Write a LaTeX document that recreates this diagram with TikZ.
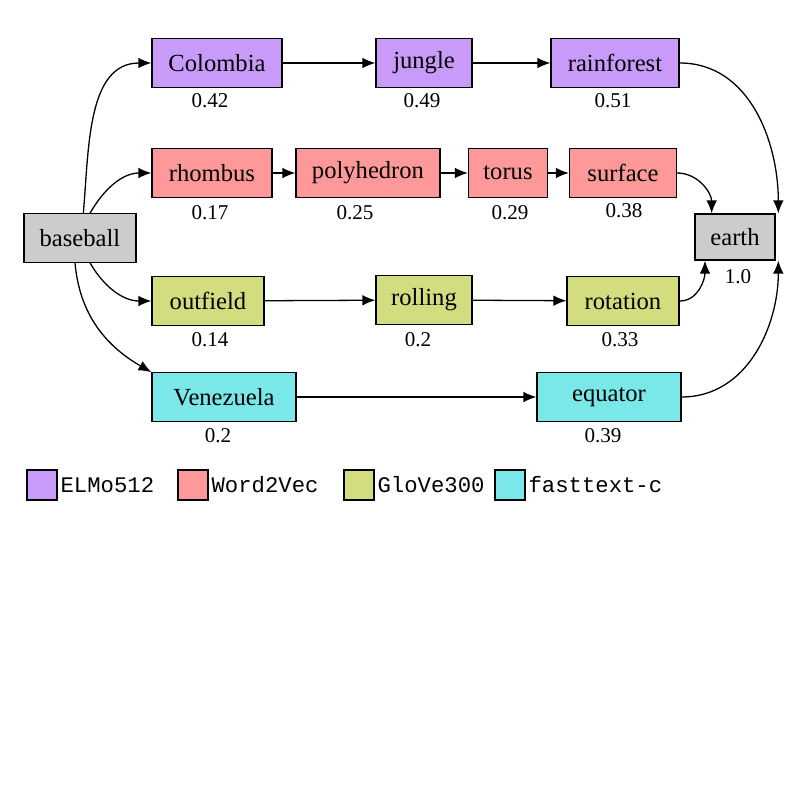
\documentclass[tikz,border=0pt]{standalone}
\usepackage{fontspec}
\setmainfont{Liberation Serif}
\setmonofont{Liberation Mono}
\usetikzlibrary{arrows.meta}
\definecolor{cP}{HTML}{C89BFA}
\definecolor{cR}{HTML}{FF9999}
\definecolor{cG}{HTML}{D4DC80}
\definecolor{cC}{HTML}{7AE8E8}
\definecolor{cK}{HTML}{CCCCCC}
\begin{document}
\begin{tikzpicture}[x=0.03cm,y=-0.03cm,line width=1.1pt,
 box/.style={draw,minimum height=1.45cm,inner sep=0pt,font=\fontsize{21}{24}\selectfont},
 sc/.style={font=\fontsize{18}{20}\selectfont},
 lg/.style={draw,minimum size=0.9cm,inner sep=0pt},
 lt/.style={font=\ttfamily\fontsize{19}{22}\selectfont,anchor=west,inner sep=2pt},
 ar/.style={-{Latex[length=11pt,width=9pt]}}]
\useasboundingbox (0,0) rectangle (792,792);
\node[box,fill=cP,minimum width=3.9cm] (col) at (217,63) {Colombia};
\node[box,fill=cP,minimum width=2.88cm] (jun) at (424,63) {jungle};
\node[box,fill=cP,minimum width=3.84cm] (rain) at (615,63) {rainforest};
\node[box,fill=cR,minimum width=3.6cm] (rho) at (212,173) {rhombus};
\node[box,fill=cR,minimum width=4.32cm] (pol) at (368,173) {polyhedron};
\node[box,fill=cR,minimum width=2.37cm] (tor) at (508,173) {torus};
\node[box,fill=cR,minimum width=3.21cm] (sur) at (623,173) {surface};
\node[box,fill=cK,minimum width=3.36cm] (base) at (80,238) {baseball};
\node[box,fill=cK,minimum width=2.4cm,minimum height=1.38cm] (earth) at (735,237) {earth};
\node[box,fill=cG,minimum width=3.36cm] (out) at (208,301) {outfield};
\node[box,fill=cG,minimum width=2.88cm] (rol) at (424,300) {rolling};
\node[box,fill=cG,minimum width=3.36cm] (rot) at (623,301) {rotation};
\node[box,fill=cC,minimum width=4.32cm] (ven) at (224,397) {Venezuela};
\node[box,fill=cC,minimum width=4.32cm] (equ) at (609,397) {equator};
\node[sc] (s1) at (210,101) {0.42};
\node[sc] (s2) at (422,101) {0.49};
\node[sc] (s3) at (613,101) {0.51};
\node[sc] (s4) at (210,213) {0.17};
\node[sc] (s5) at (355,213) {0.25};
\node[sc] (s6) at (510,213) {0.29};
\node[sc] (s7) at (624,211) {0.38};
\node[sc] (s8) at (738,277) {1.0};
\node[sc] (s9) at (210,340) {0.14};
\node[sc] (s10) at (418,340) {0.2};
\node[sc] (s11) at (620,340) {0.33};
\node[sc] (s12) at (218,436) {0.2};
\node[sc] (s13) at (603,436) {0.39};
\draw[ar] (col) -- (jun);
\draw[ar] (jun) -- (rain);
\draw[ar] (rho) -- (pol);
\draw[ar] (pol) -- (tor);
\draw[ar] (tor) -- (sur);
\draw[ar] (out) -- (rol);
\draw[ar] (rol) -- (rot);
\draw[ar] (ven) -- (equ);
\draw[ar] ([xshift=0.1cm]base.north) to[out=85,in=180] (col.west);
\draw[ar] ([xshift=0.3cm]base.north) to[out=60,in=180] (rho.west);
\draw[ar] ([xshift=0.3cm]base.south) to[out=-60,in=180] (out.west);
\draw[ar] ([xshift=-0.15cm]base.south) to[out=-85,in=150] (ven.north west);
\draw[ar] (rain.east) to[out=0,in=90] ([xshift=1.3cm]earth.north);
\draw[ar] (sur.east) to[out=0,in=90] ([xshift=-0.7cm]earth.north);
\draw[ar] (rot.east) to[out=0,in=-90] ([xshift=-0.9cm]earth.south);
\draw[ar] (equ.east) to[out=0,in=-90] ([xshift=1.3cm]earth.south);
\node[lg,fill=cP] (l1) at (42,485) {};
\node[lt] (t1) at (l1.east) {ELMo512};
\node[lg,fill=cR] (l2) at (193,485) {};
\node[lt] (t2) at (l2.east) {Word2Vec};
\node[lg,fill=cG] (l3) at (359,485) {};
\node[lt] (t3) at (l3.east) {GloVe300};
\node[lg,fill=cC] (l4) at (510,485) {};
\node[lt] (t4) at (l4.east) {fasttext-c};
\end{tikzpicture}
\end{document}
